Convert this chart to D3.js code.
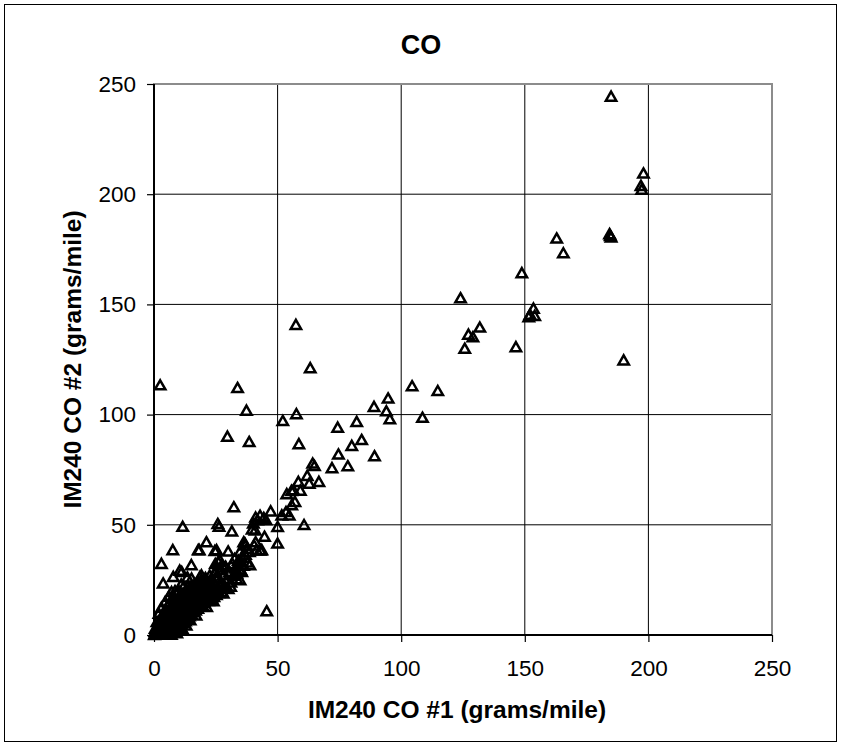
<!DOCTYPE html>
<html>
<head>
<meta charset="utf-8">
<script src="https://cdn.jsdelivr.net/npm/d3@7"></script>
<style>
  body { margin: 0; background: #fff; }
  svg { display: block; }
  text { font-family: "Liberation Sans", Arial, sans-serif; fill: #000; }
</style>
</head>
<body>
<svg id="chart"></svg>
<script>
// ── Data: [IM240 CO #1, IM240 CO #2] in grams/mile ───────────────────────────
const highPoints = [
  [184.9, 244.4], [198, 209.5], [197, 203.9], [197.3, 202.2], [184.3, 182], [184.9, 180.5],
  [184.6, 181.2], [162.9, 180], [165.6, 173.3], [148.8, 164.3], [124, 152.9], [153.5, 148.2],
  [152.1, 145.4], [154, 144.9], [151.6, 144.3], [131.8, 139.6], [127.2, 136.4], [129, 135.2],
  [125.7, 130], [146.4, 130.7], [190, 124.7]
];

const midPoints = [
  [104.4, 113], [114.8, 110.8], [108.6, 98.7], [94.7, 107.4], [94, 101.6], [95.4, 98],
  [89, 103.6], [89.2, 81.2], [82, 96.8], [74.3, 94.2], [84, 88.6], [80, 85.9], [74.6, 82],
  [78.4, 76.7], [72, 75.8], [64.2, 77.9], [64.9, 76.8], [62, 72.3], [66.7, 69.6], [62.8, 68.8],
  [58.4, 69.6], [59.2, 65.6], [56.4, 65.8], [53.7, 64], [55.6, 65.5], [57, 60.5], [55.7, 59],
  [53.4, 55.9], [54.7, 54.4], [51.7, 54.4], [47.2, 56.2], [44.4, 53.2], [42.9, 54.2],
  [41.1, 53.4], [41.9, 52.2], [40.2, 50.7], [39.7, 48], [45.3, 52.2], [50, 49.1], [60.7, 50],
  [50, 41.6], [44.7, 44.7], [43.1, 38.5], [40.5, 40.7], [41.1, 42.2], [36.3, 42.2], [37, 40.7],
  [36.8, 41.6], [37.5, 39.3], [41.5, 38.6], [43.6, 38.6], [34.8, 37.9], [40.9, 47.6],
  [42.9, 38.6], [45.6, 10.9]
];

const outliers = [
  [2.5, 113.4], [57.4, 140.8], [63.2, 121.2], [33.8, 112.2], [37.4, 101.9], [29.7, 90.1],
  [38.5, 87.7], [52.1, 97.2], [57.6, 100.3], [58.6, 86.7]
];

const lowPoints = [
  [32.3, 58.1], [31.5, 47.1], [25.8, 50.5], [26.3, 49.2], [11.6, 49.2], [21.2, 42.2],
  [18.3, 38.6], [7.6, 38.6], [24.6, 38.2], [30, 38], [32.6, 34.6], [35.2, 33.3], [32.4, 27.8],
  [35, 29.7], [33.5, 28], [35.5, 28.7], [26.7, 34], [27.4, 31.8], [26, 33.3], [24.8, 32.3],
  [25, 28.6], [25.7, 26], [28.9, 30.8], [26.8, 23.3], [26.7, 21.9], [22.7, 18.1], [17.9, 38.6],
  [25.3, 38.6], [3, 32.4], [15.1, 31.8], [11.2, 28.7], [7.8, 26.5], [3.7, 23.5], [7.1, 19.6],
  [19.2, 27.2], [15.2, 25.7], [18.6, 26.5], [11.9, 21.9], [10.4, 29.3]
];

const clusterPoints = [
  [0.2, 0.1], [0.3, 0.5], [0.5, 0.2], [0.6, 0.9], [0.8, 0.4], [1, 1.2], [1.1, 0.6], [1.3, 1.8],
  [1.4, 0.9], [1.6, 2.4], [1.7, 1.1], [1.9, 3.1], [2, 1.6], [2.2, 0.8], [2.3, 2.6], [2.5, 4.2],
  [2.6, 1.9], [2.8, 3.3], [3, 0.9], [3.1, 5.4], [3.2, 2.5], [3.4, 4], [3.5, 1.6], [3.7, 6.3],
  [3.8, 3.1], [4, 7.8], [4.1, 4.6], [4.3, 2.2], [4.4, 5.5], [4.6, 8.6], [4.7, 3.5], [4.9, 6.4],
  [5, 1.3], [5.2, 9.4], [5.3, 4.8], [5.5, 7.2], [5.6, 2.7], [5.8, 10.5], [5.9, 5.7], [6.1, 8.1],
  [6.2, 3.6], [6.4, 11.6], [6.5, 6.5], [6.7, 1.9], [6.8, 9], [7, 4.4], [7.1, 12.8], [7.3, 7.4],
  [7.5, 2.8], [7.6, 10], [7.8, 5.3], [8, 14], [8.1, 8.3], [8.3, 3.6], [8.4, 11.2], [8.6, 6.1],
  [8.8, 15.2], [8.9, 9.1], [9.1, 4.5], [9.3, 12.4], [9.4, 7], [9.6, 16.2], [9.8, 10.1],
  [10, 5.4], [10.1, 13.5], [10.3, 8], [10.5, 17.3], [10.6, 11.2], [10.8, 6.3], [11, 14.6],
  [11.2, 9], [11.4, 18.2], [11.5, 12.2], [11.7, 7.2], [11.9, 15.5], [12.1, 10.1], [12.3, 19.3],
  [12.4, 13.3], [12.6, 8.2], [12.8, 16.6], [13, 11.2], [13.2, 20.4], [13.4, 14.4], [13.6, 9.2],
  [13.8, 17.7], [14, 12.3], [14.2, 21.2], [14.4, 15.4], [14.6, 10.2], [14.8, 18.6], [15, 13.2],
  [15.3, 22], [15.5, 16.3], [15.7, 11.2], [16, 19.5], [16.2, 14.2], [16.5, 23.2], [16.7, 17.3],
  [17, 12.4], [17.2, 20.6], [17.5, 15.3], [17.8, 24], [18, 18.4], [18.3, 13.5], [18.6, 21.7],
  [18.9, 16.4], [19.2, 25], [19.5, 19.5], [19.8, 14.6], [20.1, 22.7], [20.4, 17.6], [20.8, 26],
  [21.1, 20.6], [21.4, 15.8], [21.8, 23.8], [22.1, 18.8], [22.5, 27], [22.8, 21.6], [23.2, 17],
  [23.6, 24.9], [24, 20], [24.4, 28.2], [24.8, 22.8], [25.2, 18.3], [25.7, 26], [26.1, 21.1],
  [26.6, 29.5], [27, 24.2], [27.5, 19.6], [28, 27.3], [28.5, 22.5], [29, 31], [29.5, 25.5],
  [30, 21], [30.6, 28.6], [31.1, 24], [31.7, 32.4], [32.3, 27], [32.9, 30.3], [33.5, 25.4],
  [34.1, 33.8], [34.8, 29], [35.5, 35.2], [36.2, 31.5], [37, 36.5], [37.8, 33], [38.6, 37.8],
  [0.5, 3], [1.2, 6], [2, 9.8], [3, 12.5], [4.5, 15], [6, 17.5], [8.5, 20], [11, 23], [13.5, 26.2],
  [9.2, 0.9], [7, 0.3], [11.5, 2.8], [13, 4.5], [14.6, 6.8], [17, 9], [21.3, 12.8], [24, 15.5],
  [28, 19], [31, 22], [34.8, 25], [38.8, 31.8]
];

// extra overlapping readings that make the solid block near the origin
const denseCore = [
  [0.4, 1.6], [0.9, 2.2], [1.5, 3.8], [2.1, 5.1], [2.7, 6.8], [3.3, 8.4], [3.9, 10.2],
  [4.8, 11.5], [5.4, 13.2], [6.3, 14.4], [7.2, 16.3], [7.9, 17.8], [9, 18.8], [10, 20.1],
  [1.8, 0.3], [2.9, 0.5], [3.9, 1.1], [4.8, 0.4], [5.9, 0.8], [6.3, 2.4], [7.9, 1.5],
  [8.7, 2.4], [9.6, 3.1], [10.4, 3.9], [11.1, 4.8], [12, 5.6], [12.7, 6.4], [13.5, 7.5],
  [14.3, 8.6], [15.2, 9.4], [16, 10.5], [16.8, 11.3], [17.7, 12.1], [18.6, 12.9], [19.5, 13.8],
  [20.2, 15.1], [20.9, 16.4], [22, 15.6], [23, 16.2], [24.2, 17.4], [25.4, 20.5], [26.2, 19.2],
  [2.4, 3.6], [3.6, 5.6], [4.2, 6.8], [5, 8], [5.7, 9.1], [6.6, 10.6], [7.4, 11.8], [8.2, 12.9],
  [9, 14.1], [9.9, 15.1], [10.7, 16], [11.6, 17.1], [12.4, 18], [13.3, 19], [14.1, 19.8],
  [15, 20.8], [15.9, 21.5], [16.8, 22.2], [17.6, 22.8], [18.4, 23.6], [19.4, 24], [20.4, 24.9],
  [5.1, 3], [6, 4.6], [7.1, 6.1], [8, 7.2], [9, 8.3], [9.8, 9.2], [10.7, 10], [11.6, 11.1],
  [12.5, 12], [13.4, 12.9], [14.3, 13.8], [15.2, 14.8], [16.1, 15.7], [17, 16.6], [17.9, 17.3],
  [18.8, 18.2], [19.7, 18.4], [20.6, 19.2], [21.5, 21.5], [22.4, 22.5], [23.3, 23.1], [24.1, 24.4]
];

const xTicks = [0, 50, 100, 150, 200, 250];
const yTicks = [0, 50, 100, 150, 200, 250];

const chartTitle = 'CO';
const xTitle = 'IM240 CO #1 (grams/mile)';
const yTitle = 'IM240 CO #2 (grams/mile)';

// ── Layout ───────────────────────────────────────────────────────────────────
const W = 842, H = 746;
const plot = { left: 154, right: 772, top: 84, bottom: 635 };

const svg = d3.select('#chart').attr('width', W).attr('height', H);

// outer chart frame
svg.append('rect')
  .attr('x', 4.5).attr('y', 4.5).attr('width', 832).attr('height', 737)
  .attr('fill', '#fff').attr('stroke', '#000').attr('stroke-width', 1);

const x = d3.scaleLinear().domain([0, 250]).range([plot.left, plot.right]);
const y = d3.scaleLinear().domain([0, 250]).range([plot.bottom, plot.top]);

// ── Gridlines ────────────────────────────────────────────────────────────────
const gGrid = svg.append('g');
gGrid.selectAll('.vg').data(xTicks.filter(d => d > 0 && d < 250)).join('line')
  .attr('x1', d => x(d)).attr('x2', d => x(d))
  .attr('y1', plot.top).attr('y2', plot.bottom)
  .attr('stroke', '#000').attr('stroke-width', 1);
gGrid.selectAll('.hg').data(yTicks.filter(d => d > 0 && d < 250)).join('line')
  .attr('x1', plot.left).attr('x2', plot.right)
  .attr('y1', d => y(d)).attr('y2', d => y(d))
  .attr('stroke', '#000').attr('stroke-width', 1);

// plot area border (grey, Excel style)
svg.append('rect')
  .attr('x', plot.left).attr('y', plot.top)
  .attr('width', plot.right - plot.left).attr('height', plot.bottom - plot.top)
  .attr('fill', 'none').attr('stroke', '#8c8c8c').attr('stroke-width', 2);

// ── Axes ─────────────────────────────────────────────────────────────────────
const xAxis = d3.axisBottom(x).tickValues(xTicks).tickSize(7).tickPadding(18);
const yAxis = d3.axisLeft(y).tickValues(yTicks).tickSize(7).tickPadding(11);

const gx = svg.append('g').attr('transform', `translate(0,${plot.bottom})`).call(xAxis);
const gy = svg.append('g').attr('transform', `translate(${plot.left},0)`).call(yAxis);

[gx, gy].forEach(g => {
  g.select('.domain').attr('stroke', '#000').attr('stroke-width', 2);
  g.selectAll('.tick line').attr('stroke', '#000').attr('stroke-width', 1.2);
  g.selectAll('.tick text').attr('font-size', 22.5).attr('fill', '#000')
    .style('font-family', '"Liberation Sans", Arial, sans-serif');
});
gx.select('.domain').attr('d', `M${plot.left},0H${plot.right}`);
gy.select('.domain').attr('d', `M0,${plot.bottom}V${plot.top}`);

// ── Points ───────────────────────────────────────────────────────────────────
const allPoints = [].concat(denseCore, clusterPoints, lowPoints, midPoints, outliers, highPoints);
const tri = 'M0,-4.8L5.2,4.3L-5.2,4.3Z';

svg.append('g').selectAll('path').data(allPoints).join('path')
  .attr('d', tri)
  .attr('transform', d => `translate(${x(d[0])},${y(d[1])})`)
  .attr('fill', 'none').attr('stroke', '#000').attr('stroke-width', 2.5)
  .attr('stroke-linejoin', 'miter');

// ── Titles ───────────────────────────────────────────────────────────────────
svg.append('text')
  .attr('x', 421).attr('y', 54).attr('text-anchor', 'middle')
  .attr('font-size', 27).attr('font-weight', 'bold').text(chartTitle);

svg.append('text')
  .attr('x', 457).attr('y', 718).attr('text-anchor', 'middle')
  .attr('font-size', 24.5).attr('font-weight', 'bold').text(xTitle);

svg.append('text')
  .attr('transform', `translate(81,${(plot.top + plot.bottom) / 2}) rotate(-90)`)
  .attr('text-anchor', 'middle')
  .attr('font-size', 24.5).attr('font-weight', 'bold').text(yTitle);
</script>
</body>
</html>
